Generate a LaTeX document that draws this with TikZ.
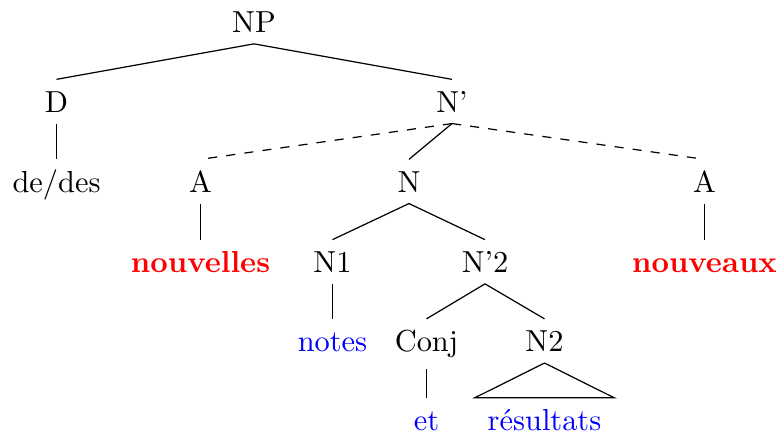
\documentclass[tikz,border=0pt]{standalone}
\usepackage{fontspec}
\setmainfont{Latin Modern Roman}
\begin{document}
\begin{tikzpicture}[x=0.3289pt,y=-0.3289pt,
  lab/.style={anchor=base,inner xsep=0pt,inner ysep=3.6pt,text height=6.94pt},
  red word/.style={lab,text=red,font=\bfseries},
  blue word/.style={lab,text=blue},
  edge/.style={draw=black,line width=0.4pt},
  dashedge/.style={edge,dashed}]
\useasboundingbox (0,0) rectangle (780,435);
% row 1
\node[lab] (NP) at (254,32.3) {NP};
% row 2
\node[lab] (D) at (56.5,112) {D};
\node[lab] (Nbar) at (452,112) {N'};
% row 3
\node[lab] (dedes) at (56.5,192) {de/des};
\node[lab] (A1) at (200.5,192) {A};
\node[lab] (N) at (409,192) {N};
\node[lab] (A2) at (704.5,192) {A};
% row 4
\node[red word] (nouvelles) at (200.5,272.3) {nouvelles};
\node[lab] (N1) at (332.5,272.3) {N1};
\node[lab] (Nbar2) at (485,272.3) {N'2};
\node[red word] (nouveaux) at (704.5,272.3) {nouveaux};
% row 5
\node[blue word] (notes) at (332.5,351.5) {notes};
\node[lab] (Conj) at (426.5,351.5) {Conj};
\node[lab] (N2) at (544.5,351.5) {N2};
% row 6
\node[blue word] (et) at (426.5,430.5) {et};
\node[blue word,inner xsep=4.1pt] (res) at (544.5,430.5) {résultats};
% edges
\draw[edge] (NP.south) -- (D.north);
\draw[edge] (NP.south) -- (Nbar.north);
\draw[edge] (D.south) -- (dedes.north);
\draw[dashedge] (Nbar.south) -- (A1.north);
\draw[edge] (Nbar.south) -- (N.north);
\draw[dashedge] (Nbar.south) -- (A2.north);
\draw[edge] (A1.south) -- (nouvelles.north);
\draw[edge] (A2.south) -- (nouveaux.north);
\draw[edge] (N.south) -- (N1.north);
\draw[edge] (N.south) -- (Nbar2.north);
\draw[edge] (N1.south) -- (notes.north);
\draw[edge] (Nbar2.south) -- (Conj.north);
\draw[edge] (Nbar2.south) -- (N2.north);
\draw[edge] (Conj.south) -- (et.north);
\draw[edge] (N2.south) -- (res.north west) -- (res.north east) -- cycle;
\end{tikzpicture}
\end{document}
